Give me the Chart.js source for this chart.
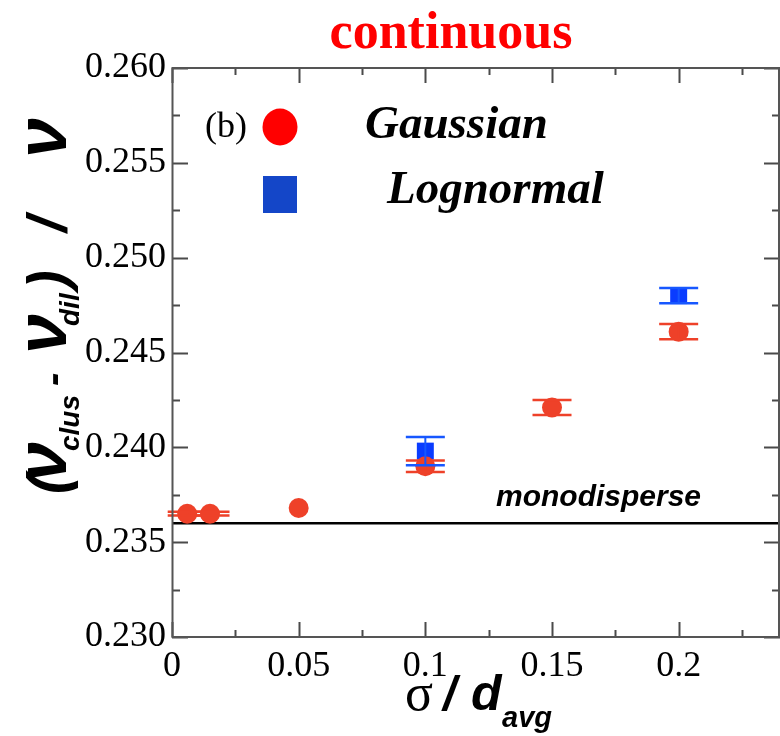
<!DOCTYPE html>
<html>
<head>
<meta charset="utf-8">
<script src="https://cdn.jsdelivr.net/npm/chart.js@4.4.1/dist/chart.umd.min.js"></script>
<style>
  html, body { margin: 0; padding: 0; background: #ffffff; }
  #wrap { width: 780px; height: 736px; }
</style>
</head>
<body>
<div id="wrap"><canvas id="chart" width="780" height="736"></canvas></div>
<script>
// Gaussian size distribution
const gaussX   = [0.006, 0.015, 0.05, 0.1, 0.15, 0.2];
const gaussY   = [0.2365, 0.2365, 0.2368, 0.2390, 0.2421, 0.2461];
const gaussErr = [0.0001, 0.0001, 0, 0.0003, 0.0004, 0.0004];

// Lognormal size distribution
const logX   = [0.1, 0.2];
const logY   = [0.2398, 0.2480];
const logErr = [0.00075, 0.0004];

// monodisperse reference level
const monoValue = 0.236;

// axis ranges and tick labels
const xRange = [0, 0.24];
const yRange = [0.230, 0.260];
const xTicks = [0, 0.05, 0.1, 0.15, 0.2];
const yTicks = [0.230, 0.235, 0.240, 0.245, 0.250, 0.255, 0.260];

const RED = '#ee4129';
const BLUE = '#0a3cff';
const BLUE_BAR = '#1757ff';

const toPts = (xs, ys) => xs.map((x, i) => ({ x: x, y: ys[i] }));

// error bars with horizontal caps
const errorBars = {
  id: 'errorBars',
  afterDatasetsDraw(chart) {
    const ctx = chart.ctx, xs = chart.scales.x, ys = chart.scales.y;
    const draw = (X, Y, E, color) => {
      ctx.save();
      ctx.strokeStyle = color;
      for (let i = 0; i < X.length; i++) {
        if (!E[i]) continue;
        const px = xs.getPixelForValue(X[i]);
        const top = ys.getPixelForValue(Y[i] + E[i]);
        const bot = ys.getPixelForValue(Y[i] - E[i]);
        ctx.lineWidth = 2;
        ctx.beginPath(); ctx.moveTo(px, top); ctx.lineTo(px, bot); ctx.stroke();
        ctx.lineWidth = 2.5;
        ctx.beginPath();
        ctx.moveTo(px - 19.5, top); ctx.lineTo(px + 19.5, top);
        ctx.moveTo(px - 19.5, bot); ctx.lineTo(px + 19.5, bot);
        ctx.stroke();
      }
      ctx.restore();
    };
    draw(gaussX, gaussY, gaussErr, RED);
    draw(logX, logY, logErr, BLUE_BAR);
  }
};

const sans = (s) => 'bold italic ' + s + 'px "Liberation Sans"';

// frame, inward ticks, titles, legend and annotation
const decorations = {
  id: 'decorations',
  afterDraw(chart) {
    const ctx = chart.ctx, a = chart.chartArea;
    const xs = chart.scales.x, ys = chart.scales.y;
    ctx.save();

    // inward ticks on all four sides
    ctx.strokeStyle = '#4a4a4a';
    ctx.lineWidth = 2;
    ctx.beginPath();
    xTicks.forEach((v) => {
      const px = Math.round(xs.getPixelForValue(v)) + 0.5;
      ctx.moveTo(px, a.bottom); ctx.lineTo(px, a.bottom - 15);
      ctx.moveTo(px, a.top); ctx.lineTo(px, a.top + 15);
      const m = v + (xTicks[1] - xTicks[0]) / 2;
      if (m < xRange[1]) {
        const pm = Math.round(xs.getPixelForValue(m)) + 0.5;
        ctx.moveTo(pm, a.bottom); ctx.lineTo(pm, a.bottom - 7);
        ctx.moveTo(pm, a.top); ctx.lineTo(pm, a.top + 7);
      }
    });
    yTicks.forEach((v, i) => {
      const py = Math.round(ys.getPixelForValue(v)) + 0.5;
      ctx.moveTo(a.left, py); ctx.lineTo(a.left + 16, py);
      ctx.moveTo(a.right, py); ctx.lineTo(a.right - 16, py);
      if (i < yTicks.length - 1) {
        const pm = Math.round(ys.getPixelForValue((v + yTicks[i + 1]) / 2)) + 0.5;
        ctx.moveTo(a.left, pm); ctx.lineTo(a.left + 8, pm);
        ctx.moveTo(a.right, pm); ctx.lineTo(a.right - 8, pm);
      }
    });
    ctx.stroke();

    // frame
    ctx.strokeStyle = '#555555';
    ctx.lineWidth = 2;
    ctx.strokeRect(a.left + 0.5, a.top, a.right - a.left - 1.5, a.bottom - a.top);

    // title
    ctx.fillStyle = '#ff0000';
    ctx.font = 'bold 52px "Liberation Serif"';
    ctx.textAlign = 'center';
    ctx.textBaseline = 'alphabetic';
    ctx.fillText('continuous', 451, 48);

    // legend
    ctx.textAlign = 'left';
    ctx.fillStyle = '#000000';
    ctx.font = '36px "Liberation Serif"';
    ctx.fillText('(b)', 205, 137);
    ctx.fillStyle = '#ff0000';
    ctx.beginPath(); ctx.ellipse(280, 127, 17.5, 18.5, 0, 0, Math.PI * 2); ctx.fill();
    ctx.fillStyle = '#1446c8';
    ctx.fillRect(263, 176, 34, 37);
    ctx.fillStyle = '#000000';
    ctx.font = 'bold italic 47px "Liberation Serif"';
    ctx.fillText('Gaussian', 365, 138);
    ctx.fillText('Lognormal', 387, 203);

    // monodisperse annotation
    ctx.font = sans(30);
    ctx.fillText('monodisperse', 496, 506);

    // x-axis title
    ctx.font = '52px "Liberation Serif"';
    ctx.fillText('\u03c3', 405, 710);
    ctx.font = sans(48);
    ctx.fillText('/', 443, 710);
    ctx.font = sans(50);
    ctx.fillText('d', 471, 710);
    ctx.font = sans(29);
    ctx.fillText('avg', 502, 727);

    // y-axis title, rotated to read upwards; each run placed along the baseline
    const yRuns = [
      { t: '(',      font: sans(56), at: 0 },
      { t: '\u03bd', font: sans(72), at: 12 },
      { t: 'clus',   font: sans(28), at: 43, dy: 13 },
      { t: '-',      font: sans(40), at: 108 },
      { t: '\u03bd', font: sans(72), at: 140 },
      { t: 'dil',    font: sans(28), at: 168, dy: 13 },
      { t: ')',      font: sans(56), at: 205 },
      { t: '/',      font: sans(56), at: 262 },
      { t: '\u03bd', font: sans(72), at: 336 }
    ];
    ctx.translate(66, 494);
    ctx.rotate(-Math.PI / 2);
    yRuns.forEach(r => { ctx.font = r.font; ctx.fillText(r.t, r.at, r.dy || 0); });

    ctx.restore();
  }
};

new Chart(document.getElementById('chart'), {
  type: 'scatter',
  data: {
    datasets: [
      {
        label: 'Gaussian',
        data: toPts(gaussX, gaussY),
        pointStyle: 'circle',
        pointRadius: 10,
        pointHoverRadius: 10,
        backgroundColor: RED,
        borderColor: RED,
        borderWidth: 0,
        order: 0
      },
      {
        label: 'Lognormal',
        data: toPts(logX, logY),
        pointStyle: 'rect',
        pointRadius: 12,
        pointHoverRadius: 12,
        backgroundColor: BLUE,
        borderColor: BLUE,
        borderWidth: 0,
        order: 1
      },
      {
        label: 'monodisperse',
        type: 'line',
        data: [{ x: xRange[0], y: monoValue }, { x: xRange[1], y: monoValue }],
        borderColor: '#000000',
        borderWidth: 2.5,
        pointRadius: 0,
        fill: false,
        order: 2
      }
    ]
  },
  options: {
    responsive: false,
    animation: false,
    devicePixelRatio: 1,
    layout: { autoPadding: false, padding: { top: 68, right: 0, left: 0, bottom: 0 } },
    plugins: {
      legend: { display: false },
      tooltip: { enabled: false },
      title: { display: false }
    },
    scales: {
      x: {
        type: 'linear',
        min: xRange[0],
        max: xRange[1],
        afterBuildTicks: (s) => { s.ticks = xTicks.map(v => ({ value: v })); },
        afterFit: (s) => { s.height = 99; s.paddingLeft = 0; s.paddingRight = 0; },
        grid: { display: false, drawTicks: false },
        border: { display: false },
        ticks: {
          padding: 8,
          color: '#000000',
          font: { family: '"Liberation Serif"', size: 36 },
          callback: (v) => String(parseFloat(Number(v).toFixed(3)))
        }
      },
      y: {
        type: 'linear',
        min: yRange[0],
        max: yRange[1],
        afterBuildTicks: (s) => { s.ticks = yTicks.map(v => ({ value: v })); },
        afterFit: (s) => { s.width = 172; s.paddingTop = 0; s.paddingBottom = 0; },
        grid: { display: false, drawTicks: false },
        border: { display: false },
        ticks: {
          padding: 6,
          color: '#000000',
          font: { family: '"Liberation Serif"', size: 36 },
          callback: (v) => Number(v).toFixed(3)
        }
      }
    }
  },
  plugins: [errorBars, decorations]
});
</script>
</body>
</html>
